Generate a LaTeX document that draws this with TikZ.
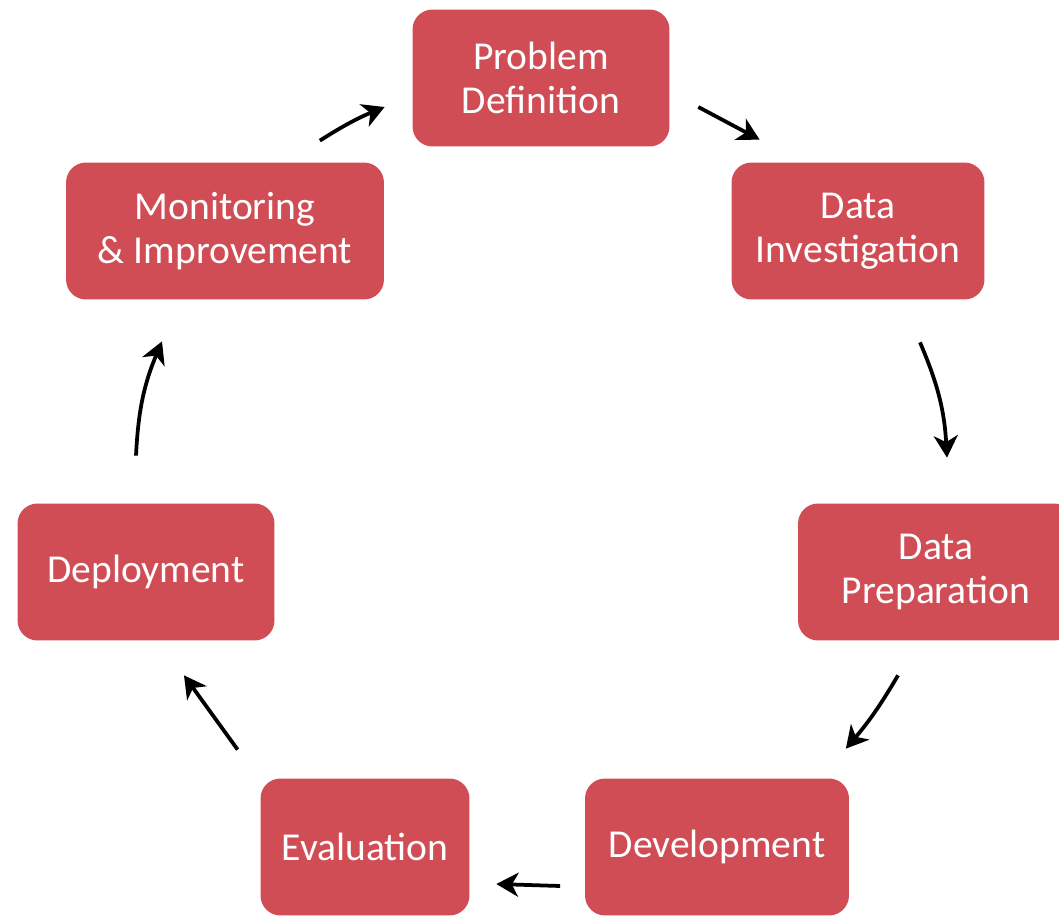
\documentclass[tikz,border=0pt]{standalone}
\usepackage{fontspec}
\setmainfont{Carlito}
\usetikzlibrary{arrows.meta,calc}
\definecolor{stagered}{RGB}{209,77,85}
\tikzset{
  stage/.style={fill=stagered, rounded corners=0.4cm, text=white, align=center,
    minimum height=2.74cm, inner sep=0pt, font=\fontsize{22.5}{25}\selectfont},
  >={Stealth[length=0.44cm,width=0.48cm,inset=0.13cm]},
}
\begin{document}
\begin{tikzpicture}[x=0.02cm,y=-0.02cm,line width=0.075cm]
			\useasboundingbox (0,0) rectangle (1059,916);
			% the seven stages
			\node[stage,minimum width=5.14cm] (prob) at (541,78) {Problem\\Definition};
			\node[stage,minimum width=5.06cm] (inv) at (858,231) {Data\\Investigation};
			\node[stage,minimum width=5.52cm] (prep) at (936,572) {Data\\Preparation};
			\node[stage,minimum width=5.28cm] (dev) at (717,847) {Development};
			\node[stage,minimum width=4.18cm] (eval) at (365,847) {Evaluation};
			\node[stage,minimum width=5.14cm] (depl) at (146,572) {Deployment};
			\node[stage,minimum width=6.36cm] (mon) at (225,231) {Monitoring\\\& Improvement};
			
			% arrows round the cycle
			\draw[->] ($(mon.north east)+(-66,-20)$) to[bend left=5] ($(prob.west)+(-26,29)$);
			\draw[->] ($(prob.east)+(27,29)$) -- ($(inv.north west)+(30,-21)$);
			\draw[->] ($(inv.south)+(62,41)$) to[bend left=10] ($(prep.north)+(11,-44)$);
			\draw[->] ($(prep.south)+(-38,33)$) to[bend left=5] ($(dev.north east)+(-5,-28)$);
			\draw[->] ($(dev.west)+(-23,39)$) -- ($(eval.east)+(25,37)$);
			\draw[->] ($(eval.north west)+(-21,-27)$) -- ($(depl.south)+(38,33)$);
			\draw[->] ($(depl.north)+(-10,-46)$) to[bend left=10] ($(mon.south)+(-63,40)$);
\end{tikzpicture}
\end{document}
